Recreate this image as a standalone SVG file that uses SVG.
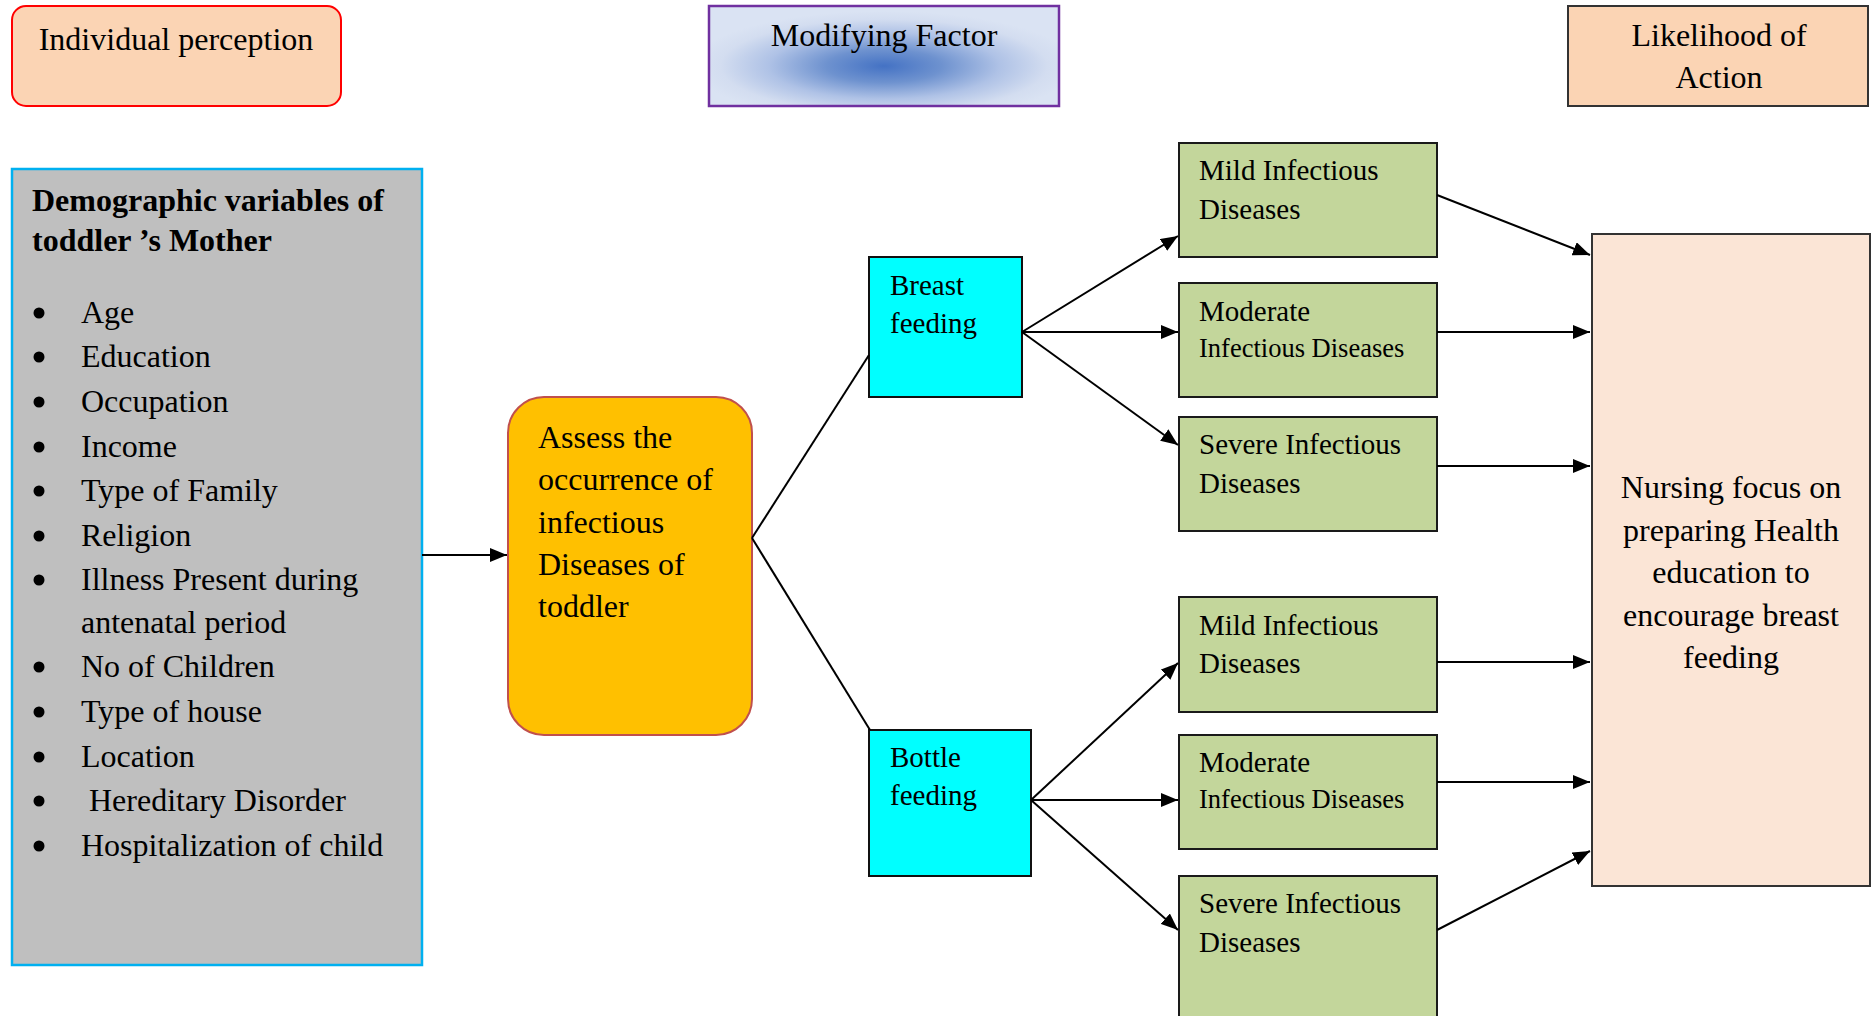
<svg xmlns="http://www.w3.org/2000/svg" width="1875" height="1016" viewBox="0 0 1875 1016">
<style>
text{font-family:"Liberation Serif","Times New Roman",serif;fill:#000}
.t32{font-size:32px}
.t29{font-size:29px}
.b{font-weight:bold}
.green{fill:#C3D69B;stroke:#1a1a1a;stroke-width:2}
.cyan{fill:#00FFFF;stroke:#111;stroke-width:2}
.ln{stroke:#000;stroke-width:2;fill:none}
.arr{stroke:#000;stroke-width:2;fill:none;marker-end:url(#ah)}
</style>
<defs>
<marker id="ah" markerUnits="userSpaceOnUse" markerWidth="17" markerHeight="14" refX="17" refY="7" orient="auto">
<path d="M0,0 L17,7 L0,14 z" fill="#000"/>
</marker>
<radialGradient id="mf" cx="50%" cy="60%" r="55%">
<stop offset="0" stop-color="#4472C4"/>
<stop offset="0.3" stop-color="#6E92CF"/>
<stop offset="0.6" stop-color="#AFC2E6"/>
<stop offset="0.85" stop-color="#D3DDF0"/>
<stop offset="1" stop-color="#DAE3F3"/>
</radialGradient>
</defs>

<g id="individual-perception">
<rect x="12" y="6" width="329" height="100" rx="14" fill="#FBD4B4" stroke="#FF0000" stroke-width="2"/>
<text class="t32" x="176" y="50" text-anchor="middle">Individual perception</text>
</g>

<g id="modifying-factor">
<rect x="709" y="6" width="350" height="100" fill="url(#mf)" stroke="#7030A0" stroke-width="2.5"/>
<text class="t32" x="884" y="46" text-anchor="middle">Modifying Factor</text>
</g>

<g id="likelihood-of-action">
<rect x="1568" y="6" width="300" height="100" fill="#FBD4B4" stroke="#333" stroke-width="2"/>
<text class="t32" x="1719" y="46" text-anchor="middle">Likelihood of</text>
<text class="t32" x="1719" y="88" text-anchor="middle">Action</text>
</g>

<g id="demographic">
<rect x="12" y="169" width="410" height="796" fill="#BFBFBF" stroke="#00B0F0" stroke-width="2.5"/>
<text class="t32 b" x="32" y="211">Demographic variables of</text>
<text class="t32 b" x="32" y="251">toddler ’s Mother</text>
<g fill="#000">
<circle cx="39" cy="313" r="5.5"/>
<circle cx="39" cy="357" r="5.5"/>
<circle cx="39" cy="402" r="5.5"/>
<circle cx="39" cy="447" r="5.5"/>
<circle cx="39" cy="491" r="5.5"/>
<circle cx="39" cy="536" r="5.5"/>
<circle cx="39" cy="580" r="5.5"/>
<circle cx="39" cy="667" r="5.5"/>
<circle cx="39" cy="712" r="5.5"/>
<circle cx="39" cy="757" r="5.5"/>
<circle cx="39" cy="801" r="5.5"/>
<circle cx="39" cy="846" r="5.5"/>
</g>
<text class="t32" x="81" y="323">Age</text>
<text class="t32" x="81" y="367">Education</text>
<text class="t32" x="81" y="412">Occupation</text>
<text class="t32" x="81" y="457">Income</text>
<text class="t32" x="81" y="501">Type of Family</text>
<text class="t32" x="81" y="546">Religion</text>
<text class="t32" x="81" y="590">Illness Present during</text>
<text class="t32" x="81" y="633">antenatal period</text>
<text class="t32" x="81" y="677">No of Children</text>
<text class="t32" x="81" y="722">Type of house</text>
<text class="t32" x="81" y="767">Location</text>
<text class="t32" x="81" y="811" xml:space="preserve"> Hereditary Disorder</text>
<text class="t32" x="81" y="856">Hospitalization of child</text>
</g>

<g id="assess">
<rect x="508" y="397" width="244" height="338" rx="36" fill="#FFC000" stroke="#C0504D" stroke-width="2"/>
<text class="t32" x="538" y="448">Assess the</text>
<text class="t32" x="538" y="490">occurrence of</text>
<text class="t32" x="538" y="533">infectious</text>
<text class="t32" x="538" y="575">Diseases of</text>
<text class="t32" x="538" y="617">toddler</text>
</g>

<g id="breast-feeding">
<rect class="cyan" x="869" y="257" width="153" height="140"/>
<text class="t29" x="890" y="295">Breast</text>
<text class="t29" x="890" y="333">feeding</text>
</g>

<g id="bottle-feeding">
<rect class="cyan" x="869" y="730" width="162" height="146"/>
<text class="t29" x="890" y="767">Bottle</text>
<text class="t29" x="890" y="805">feeding</text>
</g>

<g id="mild-1">
<rect class="green" x="1179" y="143" width="258" height="114"/>
<text class="t29" x="1199" y="180">Mild Infectious</text>
<text class="t29" x="1199" y="219">Diseases</text>
</g>
<g id="moderate-1">
<rect class="green" x="1179" y="283" width="258" height="114"/>
<text class="t29" x="1199" y="321">Moderate</text>
<text x="1199" y="357" font-size="26.5">Infectious Diseases</text>
</g>
<g id="severe-1">
<rect class="green" x="1179" y="417" width="258" height="114"/>
<text class="t29" x="1199" y="454">Severe Infectious</text>
<text class="t29" x="1199" y="493">Diseases</text>
</g>
<g id="mild-2">
<rect class="green" x="1179" y="597" width="258" height="115"/>
<text class="t29" x="1199" y="635">Mild Infectious</text>
<text class="t29" x="1199" y="673">Diseases</text>
</g>
<g id="moderate-2">
<rect class="green" x="1179" y="735" width="258" height="114"/>
<text class="t29" x="1199" y="772">Moderate</text>
<text x="1199" y="808" font-size="26.5">Infectious Diseases</text>
</g>
<g id="severe-2">
<rect class="green" x="1179" y="876" width="258" height="160"/>
<text class="t29" x="1199" y="913">Severe Infectious</text>
<text class="t29" x="1199" y="952">Diseases</text>
</g>

<g id="nursing-focus">
<rect x="1592" y="234" width="278" height="652" fill="#FBE5D6" stroke="#333" stroke-width="2"/>
<text class="t32" x="1731" y="498" text-anchor="middle">Nursing focus on</text>
<text class="t32" x="1731" y="541" text-anchor="middle">preparing Health</text>
<text class="t32" x="1731" y="583" text-anchor="middle">education to</text>
<text class="t32" x="1731" y="626" text-anchor="middle">encourage breast</text>
<text class="t32" x="1731" y="668" text-anchor="middle">feeding</text>
</g>

<g id="connectors">
<path class="arr" d="M422,555 L507,555"/>
<path class="ln" d="M752,538 L869,355"/>
<path class="ln" d="M752,538 L870,730"/>
<path class="arr" d="M1022,332 L1178,236"/>
<path class="arr" d="M1022,332 L1178,332"/>
<path class="arr" d="M1022,332 L1178,445"/>
<path class="arr" d="M1031,800 L1178,663"/>
<path class="arr" d="M1031,800 L1178,800"/>
<path class="arr" d="M1031,800 L1178,930"/>
<path class="arr" d="M1437,195 L1590,255"/>
<path class="arr" d="M1437,332 L1590,332"/>
<path class="arr" d="M1437,466 L1590,466"/>
<path class="arr" d="M1437,662 L1590,662"/>
<path class="arr" d="M1437,782 L1590,782"/>
<path class="arr" d="M1437,930 L1590,851"/>
</g>
</svg>
